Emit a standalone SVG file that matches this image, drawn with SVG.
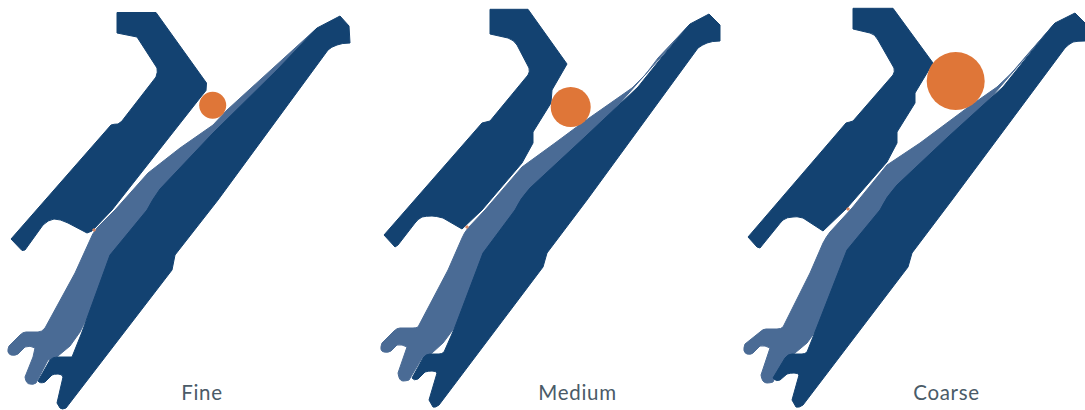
<svg xmlns="http://www.w3.org/2000/svg" width="1085" height="410" viewBox="0 0 1085 410">
<style>
.d{fill:#134271;stroke:#134271;stroke-width:1;stroke-linejoin:round}
.l{fill:#4a6b95;stroke:#4a6b95;stroke-width:1;stroke-linejoin:round}
.o{fill:#df7638}
.m{fill:#d98a66}
text{font-family:Lato,"Open Sans","Liberation Sans",sans-serif;font-size:20.500px;fill:#4a5b68;text-anchor:middle;letter-spacing:.7px}
</style>
<rect width="1085" height="410" fill="#fff"/>
<g id="fine">
<path class="l" d="M317 28L227 110L213 125L180 148L148 173L115 210L97 228Q92 234 90 240L75 273L45 328Q42 332 38 332L26 332Q23 332 20 335L9 346Q6 353 11 355Q15 356 18 354L25 347Q30 345 35 348L33 357L25 377Q26 384 30 384Q33 385 36 383L48 360L58 356L70 346L80 332L120 250Z"/>
<path class="d" d="M340 16L349 26L350 43Q342 43 337 45Q331 47 328 50L218 200L175 255L172 270L66 408Q62 410 60 408L57 403L63 377Q62 374 58 374Q54 374 52 375L45 382Q40 384 38 381L50 360Q53 357 57 357L72 357L82 332L110 255L147 210Q152 200 160 189L213 133L277 70L317 28Z"/>
<path class="d" d="M117 12.5L156 12.5L206.500 83L206 90.500L200 98L112 210L92 231L87 233L68 223Q60 219 54 219Q48 220 43 225L25 250L22 250.500L11 239L111 125Q114 124 118 124Q122 122 125 117L156 77Q158 72 157 68L137 37L117 33Z"/>
<circle class="o" cx="212.700" cy="105.300" r="13.500"/>
<rect class="m" x="92.500" y="228.500" width="3" height="3" transform="rotate(45 94 230)"/>
<text x="202" y="400">Fine</text>
</g>
<g id="medium">
<path class="l" d="M690 24L658 58Q646 76 632 88L582 123L555 143L522 167L485 210L468 228Q464 233 462 238L448 270L418 327Q416 328 413 328L400 328Q397 328 394 331L382 343Q379 351 384 352Q388 353 391 351L397 345Q402 344 407 347L398 373Q399 381 403 381Q406 381 409 380L422 358L432 353L443 343L455 327L490 250Z"/>
<path class="d" d="M709 14L720 25L720 41Q712 41 707 43Q702 45 698 48L587 200L547 253L543 267L439 405Q435 408 433 407L429 400L437 373Q436 371 432 371Q428 371 425 372L418 379Q414 381 412 378L423 358Q426 354 430 354L439 354Q442 354 444 352L455 327L483 253L515 210Q520 199 530 188L585 137L638 87L662 57L690 24Z"/>
<path class="d" d="M490 9.300L528 9.300L567 64L552 90L551 103L533 132L533 143L522 163L482 210L462 229L443 218Q436 216 432 216Q426 216 422 217Q418 219 415 223L398 245L395 247L384 235L482 123Q486 122 490 121L528 75Q530 72 529 68L517 45Q514 40 508 38L490 34Z"/>
<circle class="o" cx="570.700" cy="107" r="20"/>
<rect class="m" x="465.500" y="225.500" width="3" height="3" transform="rotate(45 467 227)"/>
<text x="577.500" y="400">Medium</text>
</g>
<g id="coarse">
<path class="l" d="M1055 23L1027 55Q1012 74 997 87L967 108L920 143L887 165L852 208L830 232Q826 237 823 243L810 273L783 327Q781 329 777 329L766 329Q763 329 760 332L745 344Q742 352 747 354Q751 355 753 353L760 346Q765 345 770 348L761 375Q762 383 767 383Q770 383 773 382L785 358L795 353L807 343L815 332L860 250Z"/>
<path class="d" d="M1075 13L1085 23L1085 41Q1077 41 1073 42Q1069 44 1065 48L952 200L912 253L908 267L803 405Q799 408 796 407L792 400L799 375Q798 373 794 373Q790 373 787 374L780 380Q776 382 773 378L785 358Q788 354 792 354L802 354Q805 354 807 352L815 332L847 250L880 210Q886 197 897 185L948 137L1003 87L1027 57L1055 23Z"/>
<path class="d" d="M853 8.300L893 8.300L933 63L915 93L915 103L897 132L897 143L887 162L847 208L823 231L803 218Q796 216 793 217Q787 217 783 220Q780 223 777 227L760 248L757 247L748 237L846 123Q850 122 853 121L893 75Q895 72 894 68L878 40Q875 34 870 33L853 29Z"/>
<circle class="o" cx="955.700" cy="81" r="29"/>
<rect class="m" x="846.500" y="207.500" width="3" height="3" transform="rotate(45 848 209)"/>
<text x="946.500" y="400">Coarse</text>
</g>
</svg>
